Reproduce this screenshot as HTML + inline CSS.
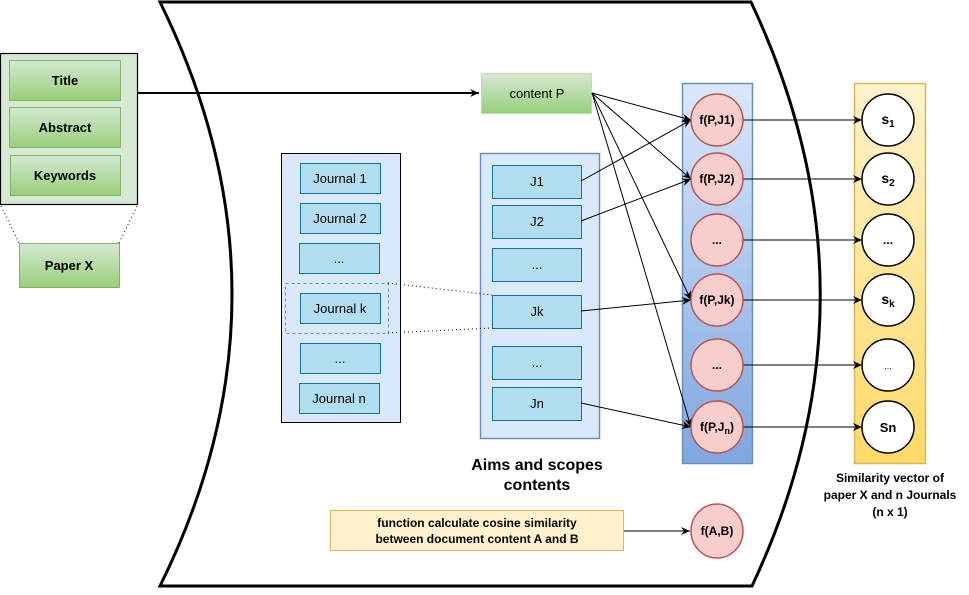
<!DOCTYPE html>
<html><head><meta charset="utf-8"><style>
body{margin:0;background:#fff}
svg text{font-family:"Liberation Sans",Arial,sans-serif;fill:#000}
</style></head><body>
<svg width="969" height="590" viewBox="0 0 969 590" xmlns="http://www.w3.org/2000/svg">
<defs>
<linearGradient id="g" x1="0" y1="0" x2="0" y2="1"><stop offset="0" stop-color="#d5e8d4"/><stop offset="1" stop-color="#97d077"/></linearGradient>
<linearGradient id="b" x1="0" y1="0" x2="0" y2="1"><stop offset="0" stop-color="#dae8fc"/><stop offset="1" stop-color="#7ea6e0"/></linearGradient>
<linearGradient id="y" x1="0" y1="0" x2="0" y2="1"><stop offset="0" stop-color="#fff2cc"/><stop offset="1" stop-color="#ffd966"/></linearGradient>
<marker id="a" markerWidth="10" markerHeight="10" refX="9" refY="5" orient="auto" markerUnits="userSpaceOnUse"><path d="M0,1 L9,5 L0,9 L3,5 z" fill="#000"/></marker>
</defs>
<path d="M160,2 L751,2 Q889,295 752,586 L160,586 Q304,295 160,2 Z" fill="#fff" stroke="#000" stroke-width="3"/>
<rect x="0.5" y="53.5" width="137" height="151" fill="#d5e8d4" stroke="#000" stroke-width="1.2"/>
<g stroke="#82b366" fill="url(#g)">
<rect x="9.5" y="60.5" width="111" height="40"/>
<rect x="9.5" y="107.5" width="111" height="40"/>
<rect x="10.5" y="155.5" width="110" height="40"/>
<rect x="19.5" y="243.5" width="100" height="44"/>
</g>
<g font-size="13" font-weight="bold" text-anchor="middle">
<text x="65" y="85">Title</text><text x="65" y="132">Abstract</text><text x="65" y="180">Keywords</text><text x="69" y="270">Paper X</text>
</g>
<g stroke="#000" stroke-dasharray="1,3" stroke-width="1"><line x1="1" y1="206" x2="19" y2="243"/><line x1="137" y1="206" x2="119" y2="243"/></g>
<line x1="138" y1="93" x2="479" y2="93" stroke="#000" stroke-width="2" marker-end="url(#a)"/>
<rect x="481.5" y="73.5" width="110" height="40" fill="url(#g)" stroke="#b9e0a5"/>
<text x="537" y="98" font-size="13" text-anchor="middle">content P</text>
<rect x="281.5" y="153.5" width="119" height="269" fill="#dae8fc" stroke="#000"/>
<g fill="#b1ddf0" stroke="#10739e">
<rect x="300.5" y="163.5" width="80" height="30"/><rect x="300.5" y="203.5" width="80" height="30"/><rect x="299.5" y="243.5" width="80" height="30"/><rect x="300.5" y="293.5" width="80" height="30"/><rect x="300.5" y="343.5" width="80" height="30"/><rect x="299.5" y="383.5" width="80" height="30"/>
</g>
<rect x="285.5" y="283.5" width="103" height="50" fill="none" stroke="#6c8ebf" stroke-dasharray="3,3"/>
<g font-size="13" text-anchor="middle">
<text x="340" y="183">Journal 1</text><text x="340" y="223">Journal 2</text><text x="339" y="263">...</text><text x="340" y="313">Journal k</text><text x="340" y="363">...</text><text x="339" y="403">Journal n</text>
</g>
<rect x="480.5" y="153.5" width="119" height="285" fill="#dae8fc" stroke="#6c8ebf" stroke-width="1.5"/>
<g fill="#b1ddf0" stroke="#10739e">
<rect x="492.5" y="165.5" width="89" height="33"/><rect x="492.5" y="205.5" width="89" height="33"/><rect x="492.5" y="248.5" width="89" height="33"/><rect x="492.5" y="295.5" width="89" height="33"/><rect x="492.5" y="346.5" width="89" height="33"/><rect x="492.5" y="387.5" width="89" height="33"/>
</g>
<g font-size="13" text-anchor="middle">
<text x="537" y="186">J1</text><text x="537" y="226">J2</text><text x="537" y="269">...</text><text x="537" y="316">Jk</text><text x="537" y="367">...</text><text x="537" y="408">Jn</text>
</g>
<g stroke="#000" stroke-dasharray="1,3"><line x1="388" y1="283" x2="492" y2="295"/><line x1="388" y1="333" x2="492" y2="328"/></g>
<g font-size="16" font-weight="bold" text-anchor="middle"><text x="537" y="470">Aims and scopes</text><text x="537" y="490">contents</text></g>
<rect x="682.5" y="83.5" width="70" height="380" fill="url(#b)" stroke="#6c8ebf" stroke-width="1.5"/>
<rect x="854.5" y="83.5" width="71" height="380" fill="url(#y)" stroke="#d6b656" stroke-width="1.5"/>
<g stroke="#000" stroke-width="1" fill="none" marker-end="url(#a)">
<line x1="592" y1="93" x2="691" y2="120"/><line x1="592" y1="93" x2="691" y2="179"/><line x1="592" y1="93" x2="691" y2="300"/><line x1="592" y1="93" x2="691" y2="427"/>
<line x1="581" y1="181" x2="691" y2="120"/><line x1="581" y1="221" x2="691" y2="179"/><line x1="581" y1="311" x2="691" y2="300"/><line x1="581" y1="403" x2="691" y2="427"/>
<line x1="743" y1="120" x2="862" y2="120"/><line x1="743" y1="179" x2="862" y2="179"/><line x1="743" y1="240" x2="862" y2="240"/><line x1="743" y1="300" x2="862" y2="300"/><line x1="743" y1="365" x2="862" y2="365"/><line x1="743" y1="427" x2="862" y2="427"/>
<line x1="624" y1="531" x2="690" y2="531"/>
</g>
<g fill="#f8cecc" stroke="#b85450" stroke-width="1.5">
<circle cx="717" cy="120" r="26"/><circle cx="717" cy="179" r="26"/><circle cx="717" cy="240" r="26"/><circle cx="717" cy="300" r="26"/><circle cx="717" cy="365" r="26"/><circle cx="717" cy="427" r="26"/>
<ellipse cx="717" cy="531" rx="26" ry="27"/>
</g>
<g fill="#fff" stroke="#000" stroke-width="1.5">
<circle cx="888" cy="120" r="26"/><circle cx="888" cy="179" r="26"/><circle cx="888" cy="240" r="26"/><circle cx="888" cy="300" r="26"/><circle cx="888" cy="365" r="26"/><circle cx="888" cy="427" r="26"/>
</g>
<g font-size="12" font-weight="bold" text-anchor="middle">
<text x="717" y="124">f(P,J1)</text><text x="717" y="183">f(P,J2)</text><text x="717" y="244">...</text><text x="717" y="304">f(P,Jk)</text><text x="717" y="369">...</text><text x="717" y="431">f(P,J<tspan font-size="9" dy="3">n</tspan><tspan dy="-3">)</tspan></text>
<text x="717" y="535">f(A,B)</text>
</g>
<g font-size="14" font-weight="bold" text-anchor="middle">
<text x="888" y="124">s<tspan font-size="10" dy="3">1</tspan></text><text x="888" y="183">s<tspan font-size="10" dy="3">2</tspan></text><text x="888" y="244" font-size="12">...</text><text x="888" y="304">s<tspan font-size="10" dy="3">k</tspan></text><text x="888" y="432" font-size="13">Sn</text>
</g>
<text x="888" y="369" font-size="9" text-anchor="middle">...</text>
<g font-size="12" font-weight="bold" text-anchor="middle"><text x="890" y="482">Similarity vector of</text><text x="890" y="499">paper X and n Journals</text><text x="890" y="516">(n x 1)</text></g>
<rect x="330.5" y="510.5" width="293" height="40" fill="#fff2cc" stroke="#d6b656"/>
<g font-size="12" font-weight="bold" text-anchor="middle"><text x="477" y="527">function calculate cosine similarity</text><text x="477" y="543">between document content A and B</text></g>
</svg>
</body></html>
